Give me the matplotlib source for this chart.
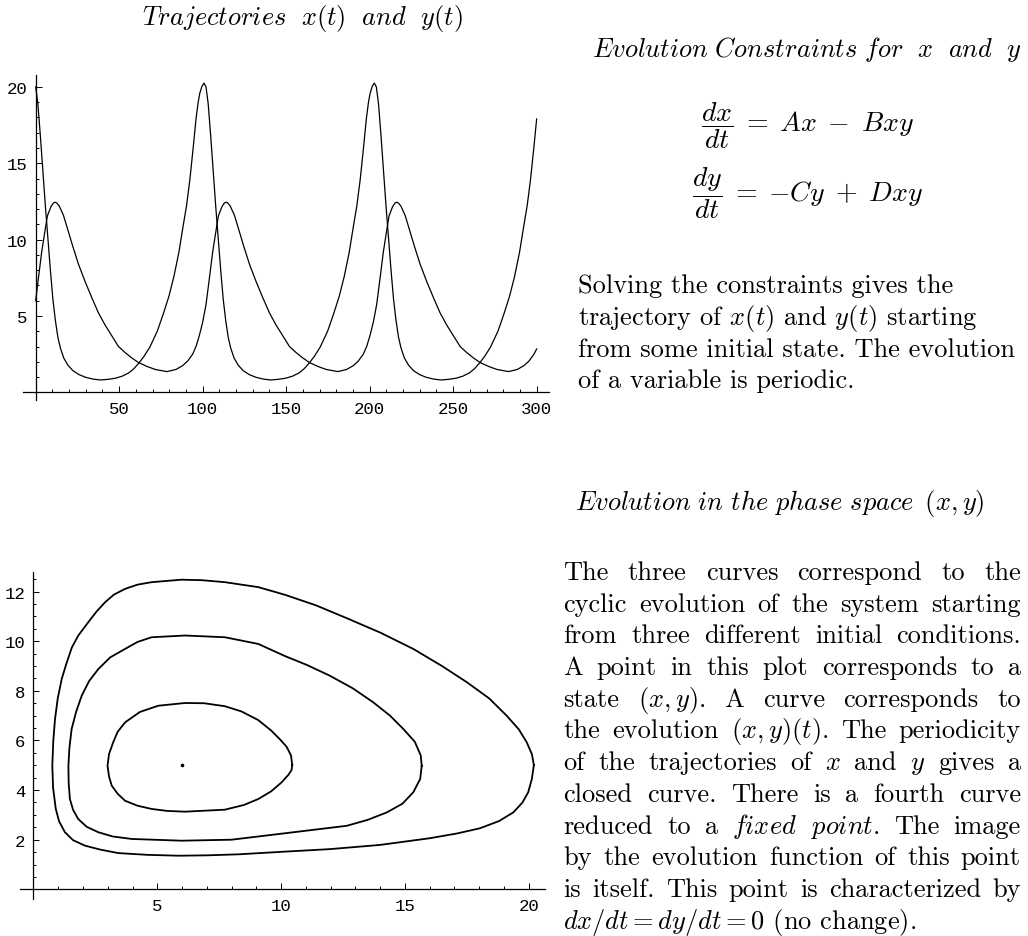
import matplotlib
matplotlib.use("Agg")
import matplotlib.pyplot as plt
import numpy as np

# ---- data ----
# x(t), top panel
t_x = [0.0, 1.3, 2.8, 4.3, 5.8, 7.3, 8.8, 10.3, 11.8, 13.3, 14.8, 16.8, 19.3, 22.3, 25.8,
       29.8, 34.3, 38.8, 43.8, 47.8, 51.8, 55.8, 58.8, 61.8, 64.8, 68.3, 72.8, 76.3,
       79.8, 82.8, 85.8, 88.3, 90.3, 92.3, 94.3, 96.0, 97.3, 98.3, 99.6, 100.8,
       102.0, 103.3, 104.8, 106.3, 107.8, 109.3, 110.8, 112.3, 113.8, 115.3, 116.8,
       118.8, 121.3, 124.3, 127.8, 131.8, 136.3, 140.8, 145.8, 149.8, 153.8, 157.8,
       160.8, 163.8, 166.8, 170.3, 174.8, 178.3, 181.8, 184.8, 187.8, 190.3, 192.3,
       194.3, 196.3, 198.0, 199.3, 200.3, 201.6, 202.8,
       204.0, 205.3, 206.8, 208.3, 209.8, 211.3, 212.8, 214.3, 215.8, 217.3, 218.8,
       220.8, 223.3, 226.3, 229.8, 233.8, 238.3, 242.8, 247.8, 251.8, 255.8, 259.8,
       262.8, 265.8, 268.8, 272.3, 276.8, 280.3, 283.8, 286.8, 289.8, 292.3, 294.3,
       296.3, 298.3, 300.0]
x_t = [20.0, 18.9, 16.8, 14.5, 12.2, 10.1, 8.0, 6.1, 4.7, 3.6, 2.9, 2.25, 1.78, 1.42, 1.17,
       0.99, 0.87, 0.81, 0.86, 0.93, 1.06, 1.28, 1.55, 1.92, 2.35, 2.95, 4.0, 5.1,
       6.3, 7.6, 9.2, 10.9, 12.2, 13.9, 16.0, 17.9, 19.0, 19.6, 20.05, 20.25,
       20.0, 18.9, 16.8, 14.5, 12.2, 10.1, 8.0, 6.1, 4.7, 3.6, 2.9,
       2.25, 1.78, 1.42, 1.17, 0.99, 0.87, 0.81, 0.86, 0.93, 1.06, 1.28,
       1.55, 1.92, 2.35, 2.95, 4.0, 5.1, 6.3, 7.6, 9.2, 10.9, 12.2,
       13.9, 16.0, 17.9, 19.0, 19.6, 20.05, 20.25,
       20.0, 18.9, 16.8, 14.5, 12.2, 10.1, 8.0, 6.1, 4.7, 3.6, 2.9,
       2.25, 1.78, 1.42, 1.17, 0.99, 0.87, 0.81, 0.86, 0.93, 1.06, 1.28,
       1.55, 1.92, 2.35, 2.95, 4.0, 5.1, 6.3, 7.6, 9.2, 10.9, 12.2,
       13.9, 16.0, 17.9]

# y(t), top panel
t_y = [0.0, 1.6, 3.6, 5.6, 7.0, 9.1, 10.6, 11.6, 12.6, 14.1, 16.6, 19.1, 22.1, 25.6, 29.6,
       33.6, 37.6, 41.6, 45.6, 49.6, 53.6, 57.6, 61.6, 66.6, 71.6, 78.6,
       84.0, 88.0, 91.0, 94.0, 96.0, 98.0, 100.0, 102.0, 104.0, 106.0, 108.0, 109.4,
       111.5, 113.0, 114.0, 115.0, 116.5, 119.0, 121.5, 124.5, 128.0, 132.0, 136.0,
       140.0, 144.0, 148.0, 152.0, 156.0, 160.0, 164.0, 169.0, 174.0, 181.0,
       186.2, 190.2, 193.2, 196.2, 198.2, 200.2, 202.2, 204.2, 206.2, 208.2, 210.2,
       211.6, 213.7, 215.2, 216.2, 217.2, 218.7, 221.2, 223.7, 226.7, 230.2, 234.2,
       238.2, 242.2, 246.2, 250.2, 254.2, 258.2, 262.2, 266.2, 271.2, 276.2, 283.2,
       288.4, 292.4, 295.4, 298.4, 300.0]
y_t = [6.0, 7.45, 9.2, 10.6, 11.55, 12.15, 12.4, 12.45, 12.4, 12.2, 11.6, 10.7, 9.6, 8.4, 7.25,
       6.2, 5.2, 4.4, 3.7, 3.0, 2.6, 2.25, 1.95, 1.7, 1.5, 1.36,
       1.5, 1.75, 2.05, 2.5, 3.0, 3.72, 4.6, 5.75, 7.45, 9.2, 10.6, 11.55,
       12.15, 12.4, 12.45, 12.4, 12.2, 11.6, 10.7, 9.6, 8.4, 7.25, 6.2,
       5.2, 4.4, 3.7, 3.0, 2.6, 2.25, 1.95, 1.7, 1.5, 1.36,
       1.5, 1.75, 2.05, 2.5, 3.0, 3.72, 4.6, 5.75, 7.45, 9.2, 10.6,
       11.55, 12.15, 12.4, 12.45, 12.4, 12.2, 11.6, 10.7, 9.6, 8.4, 7.25,
       6.2, 5.2, 4.4, 3.7, 3.0, 2.6, 2.25, 1.95, 1.7, 1.5, 1.36,
       1.5, 1.75, 2.05, 2.5, 2.84]

# phase space (x, y) closed curves, bottom panel
outer_x = [20.21, 20.13, 19.92, 19.6, 19.11, 18.4, 17.5, 16.5, 15.34, 14.0, 12.65, 11.4,
           10.16, 9.08, 7.73, 6.8, 5.98, 4.77, 4.2, 3.70, 3.25, 2.89, 2.55, 2.2, 1.81,
           1.55, 1.33, 1.14, 0.98, 0.87, 0.80, 0.76, 0.79, 0.90, 1.03, 1.27, 1.6, 2.08,
           2.7, 3.43, 4.6, 5.85, 7.0, 8.27, 10.16, 11.97, 14.0, 16.01, 17.1, 18.03, 18.8,
           19.38, 19.75, 19.98, 20.13, 20.21]
outer_y = [5.01, 5.45, 5.93, 6.45, 7.0, 7.7, 8.35, 9.0, 9.69, 10.35, 10.93, 11.45,
           11.87, 12.18, 12.38, 12.46, 12.48, 12.38, 12.28, 12.11, 11.88, 11.57, 11.2, 10.75, 10.23,
           9.75, 9.1, 8.48, 7.7, 6.87, 6.0, 4.98, 4.1, 3.24, 2.75, 2.30, 1.98, 1.76,
           1.6, 1.46, 1.39, 1.355, 1.37, 1.41, 1.52, 1.62, 1.79, 2.06, 2.25, 2.46, 2.75,
           3.10, 3.5, 3.91, 4.45, 5.01]

middle_x = [15.68, 15.64, 15.4, 14.94, 14.4, 13.72, 12.9, 11.97, 11.05, 10.16, 9.08, 7.73,
            6.12, 4.77, 4.2, 3.70, 3.1, 2.62, 2.25, 1.95, 1.72, 1.54, 1.45, 1.41, 1.42,
            1.47, 1.6, 1.81, 2.15, 2.62, 3.2, 3.97, 5.98, 8.0, 10.16, 12.65, 13.5, 14.27,
            14.9, 15.34, 15.62, 15.68]
middle_y = [4.98, 5.4, 5.95, 6.46, 7.0, 7.54, 8.1, 8.61, 9.04, 9.40, 9.89, 10.16,
            10.23, 10.16, 9.97, 9.69, 9.35, 8.88, 8.4, 7.81, 7.15, 6.46, 5.7, 4.98, 4.3,
            3.64, 3.2, 2.83, 2.52, 2.30, 2.13, 2.03, 1.96, 2.0, 2.26, 2.56, 2.8, 3.10,
            3.45, 3.91, 4.45, 4.98]

inner_x = [10.45, 10.4, 10.22, 9.95, 9.6, 9.08, 8.4, 7.73, 6.9, 6.12, 5.04, 4.3, 3.70, 3.4,
           3.22, 3.05, 2.99, 3.05, 3.16, 3.4, 3.70, 4.2, 4.77, 5.4, 6.12, 7.73, 8.5,
           9.08, 9.6, 10.02, 10.3, 10.42, 10.45]
inner_y = [5.01, 5.4, 5.75, 6.05, 6.4, 6.82, 7.17, 7.38, 7.5, 7.51, 7.40, 7.15, 6.73, 6.35,
           5.93, 5.45, 4.98, 4.55, 4.18, 3.85, 3.57, 3.37, 3.24, 3.16, 3.13, 3.21, 3.4,
           3.64, 3.95, 4.31, 4.62, 4.8, 5.01]

fixed_point = (6, 5)

top_xticks = [50, 100, 150, 200, 250, 300]
top_yticks = [5, 10, 15, 20]
bot_xticks = [5, 10, 15, 20]
bot_yticks = [2, 4, 6, 8, 10, 12]

W, H = 1028, 937
TXT = 19
plt.rcParams['mathtext.fontset'] = 'cm'
plt.rcParams['font.family'] = ['cmr10']
plt.rcParams['axes.unicode_minus'] = False
plt.rcParams['axes.formatter.use_mathtext'] = True

fig = plt.figure(figsize=(W / 100, H / 100), dpi=100)
fig.patch.set_facecolor('white')


def make_axes(l, t, r, b, xlim, ylim, xt, xminor, yt, yminor):
    ax = fig.add_axes([l / W, 1 - b / H, (r - l) / W, (b - t) / H])
    ax.set_xlim(xlim)
    ax.set_ylim(ylim)
    ax.patch.set_visible(False)
    for s in ['top', 'right']:
        ax.spines[s].set_visible(False)
    ax.spines['left'].set_position(('data', 0))
    ax.spines['bottom'].set_position(('data', 0))
    for s in ['left', 'bottom']:
        ax.spines[s].set_linewidth(0.9)
    ax.set_xticks(xt)
    ax.set_xticks(xminor, minor=True)
    ax.set_yticks(yt)
    ax.set_yticks(yminor, minor=True)
    ax.set_xticklabels([str(v) for v in xt], fontfamily='Liberation Mono', fontsize=12.5)
    ax.set_yticklabels([str(v) for v in yt], fontfamily='Liberation Mono', fontsize=12.5)
    ax.tick_params(which='both', direction='in', width=0.7, colors='black', pad=6)
    ax.tick_params(which='major', length=4.0)
    ax.tick_params(which='minor', length=2.2)
    return ax


# top panel: trajectories
ax1 = make_axes(23, 76, 549, 400.7, (-7.6, 307.4), (-0.48, 20.78),
                top_xticks, np.arange(10, 301, 10), top_yticks, np.arange(1, 21, 1))
ax1.plot(t_x, x_t, color='black', lw=0.9, solid_joinstyle='round')
ax1.plot(t_y, y_t, color='black', lw=0.9, solid_joinstyle='round')

# bottom panel: phase space
ax2 = make_axes(20.5, 573, 545, 900, (-0.525, 20.66), (-0.39, 12.79),
                bot_xticks, np.arange(1, 21, 1), bot_yticks, np.arange(0.5, 12.6, 0.5))
for cx, cy in [(outer_x, outer_y), (middle_x, middle_y), (inner_x, inner_y)]:
    ax2.plot(cx, cy, color='black', lw=1.3, solid_joinstyle='round')
ax2.plot([fixed_point[0]], [fixed_point[1]], 'o', color='black', ms=1.6)


def ftext(x, y, s, **kw):
    return fig.text(x / W, 1 - y / H, s, **kw)


# titles
ftext(302, 25, r'$\mathit{Trajectories}\ \ x(t)\ \ \mathit{and}\ \ y(t)$',
      fontsize=TXT, ha='center', va='baseline')
ftext(591.7, 56.7, r'$\mathit{Evolution}\ \mathit{Constraints}\ \mathit{for}\ \ x\ \ \mathit{and}\ \ y$',
      fontsize=TXT, ha='left', va='baseline')
ftext(575, 510, r'$\mathit{Evolution}\ \mathit{in}\ \mathit{the}\ \mathit{phase}\ \mathit{space}\ \,(x,y)$',
      fontsize=TXT, ha='left', va='baseline')

# equations
ftext(807.5, 126, r'$\dfrac{dx}{dt}\;=\;Ax\;-\;Bxy$', fontsize=20, ha='center', va='center')
ftext(807.5, 193.3, r'$\dfrac{dy}{dt}\;=\;{-}Cy\;+\;Dxy$', fontsize=20, ha='center', va='center')

# first paragraph, ragged right
para1 = ["Solving the constraints gives the",
         r"trajectory of $x(t)$ and $y(t)$ starting",
         "from some initial state. The evolution",
         "of a variable is periodic."]
for i, line in enumerate(para1):
    ftext(578, 293.3 + i * 31.7, line, fontsize=TXT, ha='left', va='baseline')

# second paragraph, justified
para2 = [
    "The three curves correspond to the",
    "cyclic evolution of the system starting",
    "from three different initial conditions.",
    "A point in this plot corresponds to a",
    r"state $(x,y)$. A curve corresponds to",
    r"the evolution $(x,y)(t)$. The periodicity",
    r"of the trajectories of $x$ and $y$ gives a",
    "closed curve. There is a fourth curve",
    r"reduced to a $\mathit{fixed}$ $\mathit{point}$. The image",
    "by the evolution function of this point",
    "is itself. This point is characterized by",
    r"$dx/dt = dy/dt = 0$ (no change).",
]
renderer = fig.canvas.get_renderer()
x0, x1 = 563.3, 1021.0
for i, line in enumerate(para2):
    y = 580 + i * 31.7
    if i == len(para2) - 1:
        ftext(x0, y, line, fontsize=TXT, ha='left', va='baseline')
        continue
    words = line.split(' ')
    txts = [ftext(x0, y, w, fontsize=TXT, ha='left', va='baseline') for w in words]
    widths = [tx.get_window_extent(renderer).width for tx in txts]
    gap = (x1 - x0 - sum(widths)) / (len(words) - 1)
    xpos = x0
    for tx, wd in zip(txts, widths):
        tx.set_x(xpos / W)
        xpos += wd + gap

fig.savefig('out.png', dpi=100, facecolor='white')
